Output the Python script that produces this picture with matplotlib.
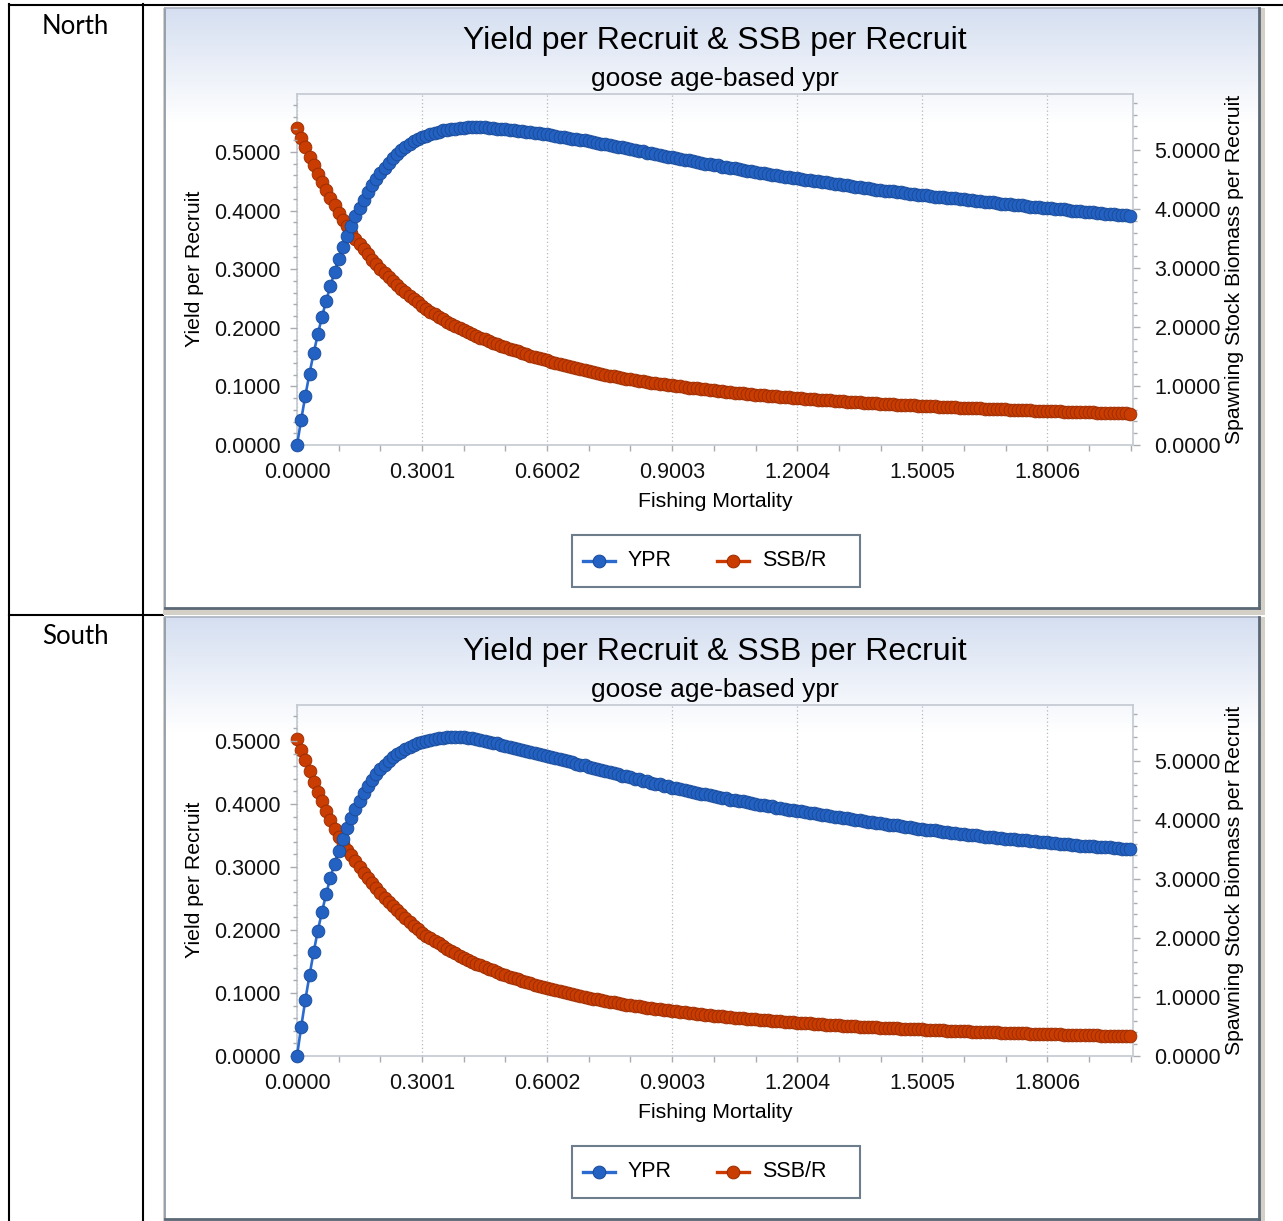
import matplotlib.pyplot as plt
import numpy as np
from matplotlib.patches import Rectangle
from matplotlib.ticker import MultipleLocator, FormatStrFormatter

W, H = 1283, 1221

# fishing mortality grid used by the ypr run (0.00 .. 2.00, step 0.01)
f_mort = np.round(np.arange(201) * 0.01, 2)

north_ypr = [
    0.000, 0.043, 0.084, 0.122, 0.157, 0.189, 0.219, 0.246, 0.271, 0.295,
    0.318, 0.338, 0.357, 0.374, 0.390, 0.405, 0.418, 0.431, 0.443, 0.454,
    0.464, 0.473, 0.482, 0.490, 0.497, 0.503, 0.509, 0.514, 0.518, 0.522,
    0.525, 0.528, 0.531, 0.533, 0.535, 0.537, 0.538, 0.539, 0.540, 0.541,
    0.541, 0.542, 0.542, 0.542, 0.542, 0.542, 0.541, 0.541, 0.540, 0.540,
    0.539, 0.538, 0.537, 0.536, 0.536, 0.535, 0.534, 0.533, 0.532, 0.531,
    0.530, 0.529, 0.528, 0.526, 0.525, 0.524, 0.523, 0.522, 0.521, 0.520,
    0.518, 0.517, 0.516, 0.514, 0.513, 0.512, 0.510, 0.509, 0.508, 0.506,
    0.505, 0.504, 0.502, 0.501, 0.499, 0.498, 0.496, 0.495, 0.494, 0.492,
    0.491, 0.490, 0.488, 0.487, 0.486, 0.484, 0.483, 0.482, 0.480, 0.479,
    0.478, 0.477, 0.475, 0.474, 0.473, 0.472, 0.471, 0.469, 0.468, 0.467,
    0.466, 0.465, 0.464, 0.462, 0.461, 0.460, 0.459, 0.458, 0.457, 0.456,
    0.455, 0.454, 0.453, 0.452, 0.451, 0.450, 0.449, 0.448, 0.447, 0.446,
    0.445, 0.444, 0.443, 0.442, 0.441, 0.440, 0.439, 0.438, 0.437, 0.436,
    0.435, 0.434, 0.433, 0.433, 0.432, 0.431, 0.430, 0.429, 0.428, 0.427,
    0.427, 0.426, 0.425, 0.424, 0.424, 0.423, 0.422, 0.421, 0.421, 0.420,
    0.419, 0.418, 0.418, 0.417, 0.416, 0.415, 0.415, 0.414, 0.413, 0.412,
    0.412, 0.411, 0.410, 0.409, 0.409, 0.408, 0.407, 0.407, 0.406, 0.405,
    0.405, 0.404, 0.403, 0.403, 0.402, 0.401, 0.400, 0.400, 0.399, 0.398,
    0.398, 0.397, 0.396, 0.396, 0.395, 0.394, 0.394, 0.393, 0.392, 0.392,
    0.391]

north_ssbr = [
    5.38, 5.21, 5.05, 4.89, 4.74, 4.60, 4.46, 4.32, 4.19, 4.06,
    3.93, 3.82, 3.71, 3.60, 3.50, 3.41, 3.32, 3.23, 3.14, 3.06,
    2.99, 2.92, 2.85, 2.78, 2.71, 2.65, 2.59, 2.53, 2.47, 2.42,
    2.36, 2.31, 2.26, 2.22, 2.17, 2.13, 2.09, 2.05, 2.01, 1.98,
    1.945, 1.911, 1.879, 1.848, 1.818, 1.789, 1.761, 1.734, 1.708, 1.683,
    1.659, 1.634, 1.609, 1.585, 1.561, 1.538, 1.516, 1.494, 1.473, 1.453,
    1.433, 1.413, 1.394, 1.375, 1.357, 1.339, 1.321, 1.304, 1.287, 1.270,
    1.254, 1.238, 1.222, 1.207, 1.192, 1.178, 1.164, 1.150, 1.137, 1.124,
    1.111, 1.100, 1.089, 1.078, 1.067, 1.057, 1.047, 1.037, 1.028, 1.019,
    1.010, 1.001, 0.992, 0.983, 0.974, 0.966, 0.958, 0.950, 0.942, 0.935,
    0.927, 0.919, 0.911, 0.903, 0.896, 0.889, 0.882, 0.875, 0.868, 0.862,
    0.856, 0.849, 0.843, 0.837, 0.831, 0.825, 0.819, 0.813, 0.808, 0.802,
    0.797, 0.792, 0.786, 0.781, 0.776, 0.771, 0.766, 0.761, 0.756, 0.751,
    0.746, 0.741, 0.737, 0.732, 0.728, 0.723, 0.719, 0.715, 0.710, 0.706,
    0.702, 0.698, 0.694, 0.690, 0.686, 0.682, 0.678, 0.675, 0.671, 0.667,
    0.664, 0.660, 0.657, 0.653, 0.650, 0.647, 0.643, 0.640, 0.637, 0.634,
    0.631, 0.628, 0.625, 0.622, 0.619, 0.616, 0.613, 0.610, 0.607, 0.604,
    0.602, 0.599, 0.596, 0.594, 0.591, 0.589, 0.586, 0.583, 0.581, 0.578,
    0.576, 0.574, 0.571, 0.569, 0.567, 0.564, 0.562, 0.560, 0.558, 0.555,
    0.553, 0.551, 0.549, 0.547, 0.545, 0.543, 0.541, 0.539, 0.537, 0.535,
    0.533]

south_ypr = [
    0.000, 0.046, 0.089, 0.128, 0.165, 0.199, 0.229, 0.257, 0.283, 0.305,
    0.326, 0.345, 0.362, 0.378, 0.392, 0.405, 0.417, 0.428, 0.438, 0.447,
    0.455, 0.462, 0.468, 0.474, 0.479, 0.483, 0.487, 0.490, 0.493, 0.496,
    0.498, 0.500, 0.502, 0.503, 0.504, 0.505, 0.506, 0.507, 0.507, 0.507,
    0.506, 0.505, 0.504, 0.503, 0.502, 0.500, 0.499, 0.497, 0.496, 0.494,
    0.492, 0.490, 0.489, 0.487, 0.486, 0.484, 0.482, 0.481, 0.479, 0.478,
    0.476, 0.474, 0.473, 0.471, 0.469, 0.468, 0.466, 0.464, 0.462, 0.461,
    0.459, 0.457, 0.456, 0.454, 0.452, 0.451, 0.449, 0.447, 0.445, 0.444,
    0.442, 0.440, 0.439, 0.437, 0.436, 0.434, 0.432, 0.431, 0.429, 0.428,
    0.426, 0.425, 0.423, 0.422, 0.421, 0.419, 0.418, 0.416, 0.415, 0.414,
    0.412, 0.411, 0.410, 0.409, 0.407, 0.406, 0.405, 0.404, 0.403, 0.401,
    0.400, 0.399, 0.398, 0.397, 0.396, 0.394, 0.393, 0.392, 0.391, 0.390,
    0.389, 0.388, 0.387, 0.386, 0.385, 0.384, 0.383, 0.382, 0.381, 0.380,
    0.379, 0.378, 0.377, 0.376, 0.375, 0.374, 0.373, 0.372, 0.371, 0.370,
    0.369, 0.368, 0.367, 0.366, 0.366, 0.365, 0.364, 0.363, 0.362, 0.361,
    0.360, 0.359, 0.358, 0.358, 0.357, 0.356, 0.355, 0.354, 0.354, 0.353,
    0.352, 0.351, 0.351, 0.350, 0.349, 0.348, 0.348, 0.347, 0.346, 0.346,
    0.345, 0.344, 0.344, 0.343, 0.342, 0.342, 0.341, 0.341, 0.340, 0.339,
    0.339, 0.338, 0.338, 0.337, 0.336, 0.336, 0.335, 0.335, 0.334, 0.334,
    0.333, 0.333, 0.332, 0.332, 0.331, 0.331, 0.330, 0.330, 0.329, 0.329,
    0.328]

south_ssbr = [
    5.38, 5.19, 5.01, 4.83, 4.65, 4.48, 4.32, 4.16, 4.00, 3.85,
    3.71, 3.60, 3.50, 3.40, 3.30, 3.20, 3.11, 3.02, 2.93, 2.84,
    2.76, 2.68, 2.61, 2.54, 2.47, 2.40, 2.34, 2.27, 2.21, 2.15,
    2.09, 2.04, 2.00, 1.95, 1.91, 1.86, 1.82, 1.78, 1.74, 1.70,
    1.660, 1.628, 1.597, 1.567, 1.537, 1.508, 1.479, 1.451, 1.424, 1.396,
    1.370, 1.346, 1.323, 1.300, 1.277, 1.255, 1.233, 1.212, 1.191, 1.170,
    1.150, 1.132, 1.115, 1.098, 1.081, 1.064, 1.048, 1.032, 1.016, 1.000,
    0.985, 0.972, 0.959, 0.946, 0.933, 0.921, 0.908, 0.896, 0.884, 0.872,
    0.860, 0.850, 0.840, 0.830, 0.820, 0.811, 0.801, 0.792, 0.783, 0.774,
    0.765, 0.756, 0.748, 0.740, 0.732, 0.724, 0.716, 0.708, 0.700, 0.693,
    0.685, 0.678, 0.672, 0.665, 0.658, 0.652, 0.645, 0.639, 0.633, 0.626,
    0.620, 0.614, 0.609, 0.603, 0.598, 0.592, 0.587, 0.581, 0.576, 0.570,
    0.565, 0.560, 0.556, 0.551, 0.547, 0.542, 0.538, 0.533, 0.529, 0.524,
    0.520, 0.516, 0.512, 0.508, 0.504, 0.500, 0.496, 0.492, 0.488, 0.484,
    0.480, 0.477, 0.474, 0.471, 0.468, 0.465, 0.462, 0.459, 0.456, 0.453,
    0.450, 0.447, 0.444, 0.441, 0.438, 0.435, 0.432, 0.429, 0.426, 0.423,
    0.420, 0.418, 0.415, 0.413, 0.410, 0.408, 0.405, 0.403, 0.400, 0.398,
    0.395, 0.393, 0.390, 0.388, 0.385, 0.383, 0.380, 0.378, 0.375, 0.373,
    0.370, 0.368, 0.366, 0.365, 0.363, 0.361, 0.359, 0.357, 0.356, 0.354,
    0.352, 0.350, 0.349, 0.347, 0.345, 0.344, 0.342, 0.340, 0.338, 0.337,
    0.335]

regions = ["North", "South"]
title = "Yield per Recruit & SSB per Recruit"
subtitle = "goose age-based ypr"

BLUE, BLUE_EDGE, BLUE_LINE = '#2361c2', '#194a97', '#2b6bd0'
RED, RED_EDGE, RED_LINE = '#c93c02', '#992c00', '#cc3a00'
AXC = '#c3c9d1'
TICKC = '#a9adb2'
FONT = 'Liberation Sans'
MS = 9.2

fig = plt.figure(figsize=(W / 100, H / 100), dpi=100)

# background layer in pixel coordinates (table, panels, titles, legend)
bg = fig.add_axes([0, 0, 1, 1], zorder=0)
bg.axis('off')


def draw_panel(top, bottom):
    bg.add_patch(Rectangle((163, top), 1265 - 163, bottom - top + 7,
                           color='#d4d0c8', zorder=1, lw=0))
    bg.add_patch(Rectangle((165, top), 1259 - 165, bottom - top,
                           color='white', zorder=2, lw=0))
    # light blue wash fading to white at the top of the panel
    c0 = np.array([0.835, 0.875, 0.945])
    t = np.linspace(0, 1, 120)[:, None]
    img = c0 * (1 - t) + t
    bg.imshow(img[:, None, :], extent=(165, 1259, top + 115, top),
              aspect='auto', zorder=3, interpolation='bilinear')
    bg.plot([165, 165], [top, bottom], color='#8b96a2', lw=1.2, zorder=4)
    bg.plot([165, 1259], [top, top], color='#aab3be', lw=1.2, zorder=4)
    bg.plot([1259, 1259], [top, bottom], color='#5b6876', lw=2.0, zorder=4)
    bg.plot([165, 1259], [bottom, bottom], color='#5b6876', lw=2.0, zorder=4)


def draw_legend(dy):
    bg.add_patch(Rectangle((572, 535 + dy), 288, 52, facecolor='white',
                           edgecolor='#6e7d8c', lw=1.5, zorder=5))
    yy = 561 + dy
    bg.plot([583, 615], [yy, yy], color=BLUE_LINE, lw=2.4, zorder=6)
    bg.plot([599], [yy], 'o', ms=MS, mfc=BLUE, mec=BLUE_EDGE, mew=0.7, zorder=7)
    bg.text(628, yy + 5, "YPR", fontsize=15.5, family=FONT, va='baseline', zorder=7)
    bg.plot([717, 749], [yy, yy], color=RED_LINE, lw=2.4, zorder=6)
    bg.plot([733], [yy], 'o', ms=MS, mfc=RED, mec=RED_EDGE, mew=0.7, zorder=7)
    bg.text(762, yy + 5, "SSB/R", fontsize=15.5, family=FONT, va='baseline', zorder=7)


def make_chart(dy, ypr, ssbr, ypr_top):
    x0, x1 = 297, 1133
    y0, y1 = 94 + dy, 445 + dy
    ax = fig.add_axes([x0 / W, 1 - y1 / H, (x1 - x0) / W, (y1 - y0) / H])
    ax.set_zorder(2)
    ax.patch.set_visible(False)
    # SSB/R on the right-hand scale, drawn underneath
    ax.plot(f_mort, ssbr, color=RED_LINE, lw=1.9, marker='o', ms=MS,
            mfc=RED, mec=RED_EDGE, mew=0.6, clip_on=False, zorder=3)
    ax.set_xlim(0, 2.0063)
    ax.set_ylim(0, 5.95)
    ax.xaxis.set_major_locator(MultipleLocator(0.3001))
    ax.xaxis.set_minor_locator(MultipleLocator(0.3001 / 3))
    ax.xaxis.set_major_formatter(FormatStrFormatter('%.4f'))
    ax.yaxis.set_major_locator(MultipleLocator(1.0))
    ax.yaxis.set_minor_locator(MultipleLocator(0.2))
    ax.yaxis.set_major_formatter(FormatStrFormatter('%.4f'))
    ax.grid(axis='x', which='major', linestyle=(0, (1, 2)), color='#b3b9c1', lw=0.9)
    ax.set_axisbelow(True)
    for s in ax.spines.values():
        s.set_color(AXC)
        s.set_linewidth(1.2)

    ax2 = ax.twinx()
    ax2.set_zorder(3)
    ax2.patch.set_visible(False)
    ax2.plot(f_mort, ypr, color=BLUE_LINE, lw=1.9, marker='o', ms=MS,
             mfc=BLUE, mec=BLUE_EDGE, mew=0.6, clip_on=False, zorder=3)
    ax2.set_ylim(0, ypr_top)
    ax2.yaxis.set_major_locator(MultipleLocator(0.1))
    ax2.yaxis.set_minor_locator(MultipleLocator(0.02))
    ax2.yaxis.set_major_formatter(FormatStrFormatter('%.4f'))
    for s in ax2.spines.values():
        s.set_visible(False)

    ax.yaxis.tick_right()
    ax2.yaxis.tick_left()
    ax.tick_params(axis='x', which='both', direction='out', length=4, width=1,
                   color=TICKC, pad=8, labelsize=15.5, labelcolor='#111111')
    ax.tick_params(axis='y', which='major', direction='out', length=5, width=1,
                   color=TICKC, pad=10.5, labelsize=15.5, labelcolor='#111111')
    ax.tick_params(axis='y', which='minor', direction='out', length=3, width=1, color=TICKC)
    ax2.tick_params(axis='y', which='major', direction='out', length=5, width=1,
                    color=TICKC, pad=7, labelsize=15.5, labelcolor='#111111')
    ax2.tick_params(axis='y', which='minor', direction='out', length=3, width=1, color=TICKC)
    for a in (ax, ax2):
        for lab in a.get_xticklabels() + a.get_yticklabels():
            lab.set_family(FONT)


plt.rcParams['font.family'] = FONT

# table grid
lw_tab = 1.5
bg.plot([9, 9], [4, H], color='black', lw=lw_tab, zorder=1)
bg.plot([143, 143], [4, H], color='black', lw=lw_tab, zorder=1)
bg.plot([9, W], [5, 5], color='black', lw=lw_tab, zorder=1)
bg.plot([9, 163], [615, 615], color='black', lw=lw_tab, zorder=1)

panels = [(8, 608, 0, north_ypr, north_ssbr, 0.599),
          (617, 1219, 611, south_ypr, south_ssbr, 0.557)]

for name, (top, bottom, dy, ypr, ssbr, ytop) in zip(regions, panels):
    bg.text(75, 26 + dy, name, fontsize=18.5, family='Lato', ha='center', va='center')
    draw_panel(top, bottom)
    bg.text(715, 49 + dy, title, fontsize=23, family=FONT, ha='center',
            va='baseline', zorder=6)
    bg.text(715, 86 + dy, subtitle, fontsize=19, family=FONT, ha='center',
            va='baseline', zorder=6)
    bg.text(715, 507 + dy, "Fishing Mortality", fontsize=15.3, family=FONT,
            ha='center', va='baseline', zorder=6)
    bg.text(195, 269 + dy, "Yield per Recruit", fontsize=15.3, family=FONT,
            rotation=90, ha='center', va='center', zorder=6)
    bg.text(1234, 269 + dy, "Spawning Stock Biomass per Recruit", fontsize=15.3,
            family=FONT, rotation=90, ha='center', va='center', zorder=6)
    draw_legend(dy)
    make_chart(dy, ypr, ssbr, ytop)

bg.set_xlim(0, W)
bg.set_ylim(H, 0)

fig.savefig('out.png', dpi=100)
